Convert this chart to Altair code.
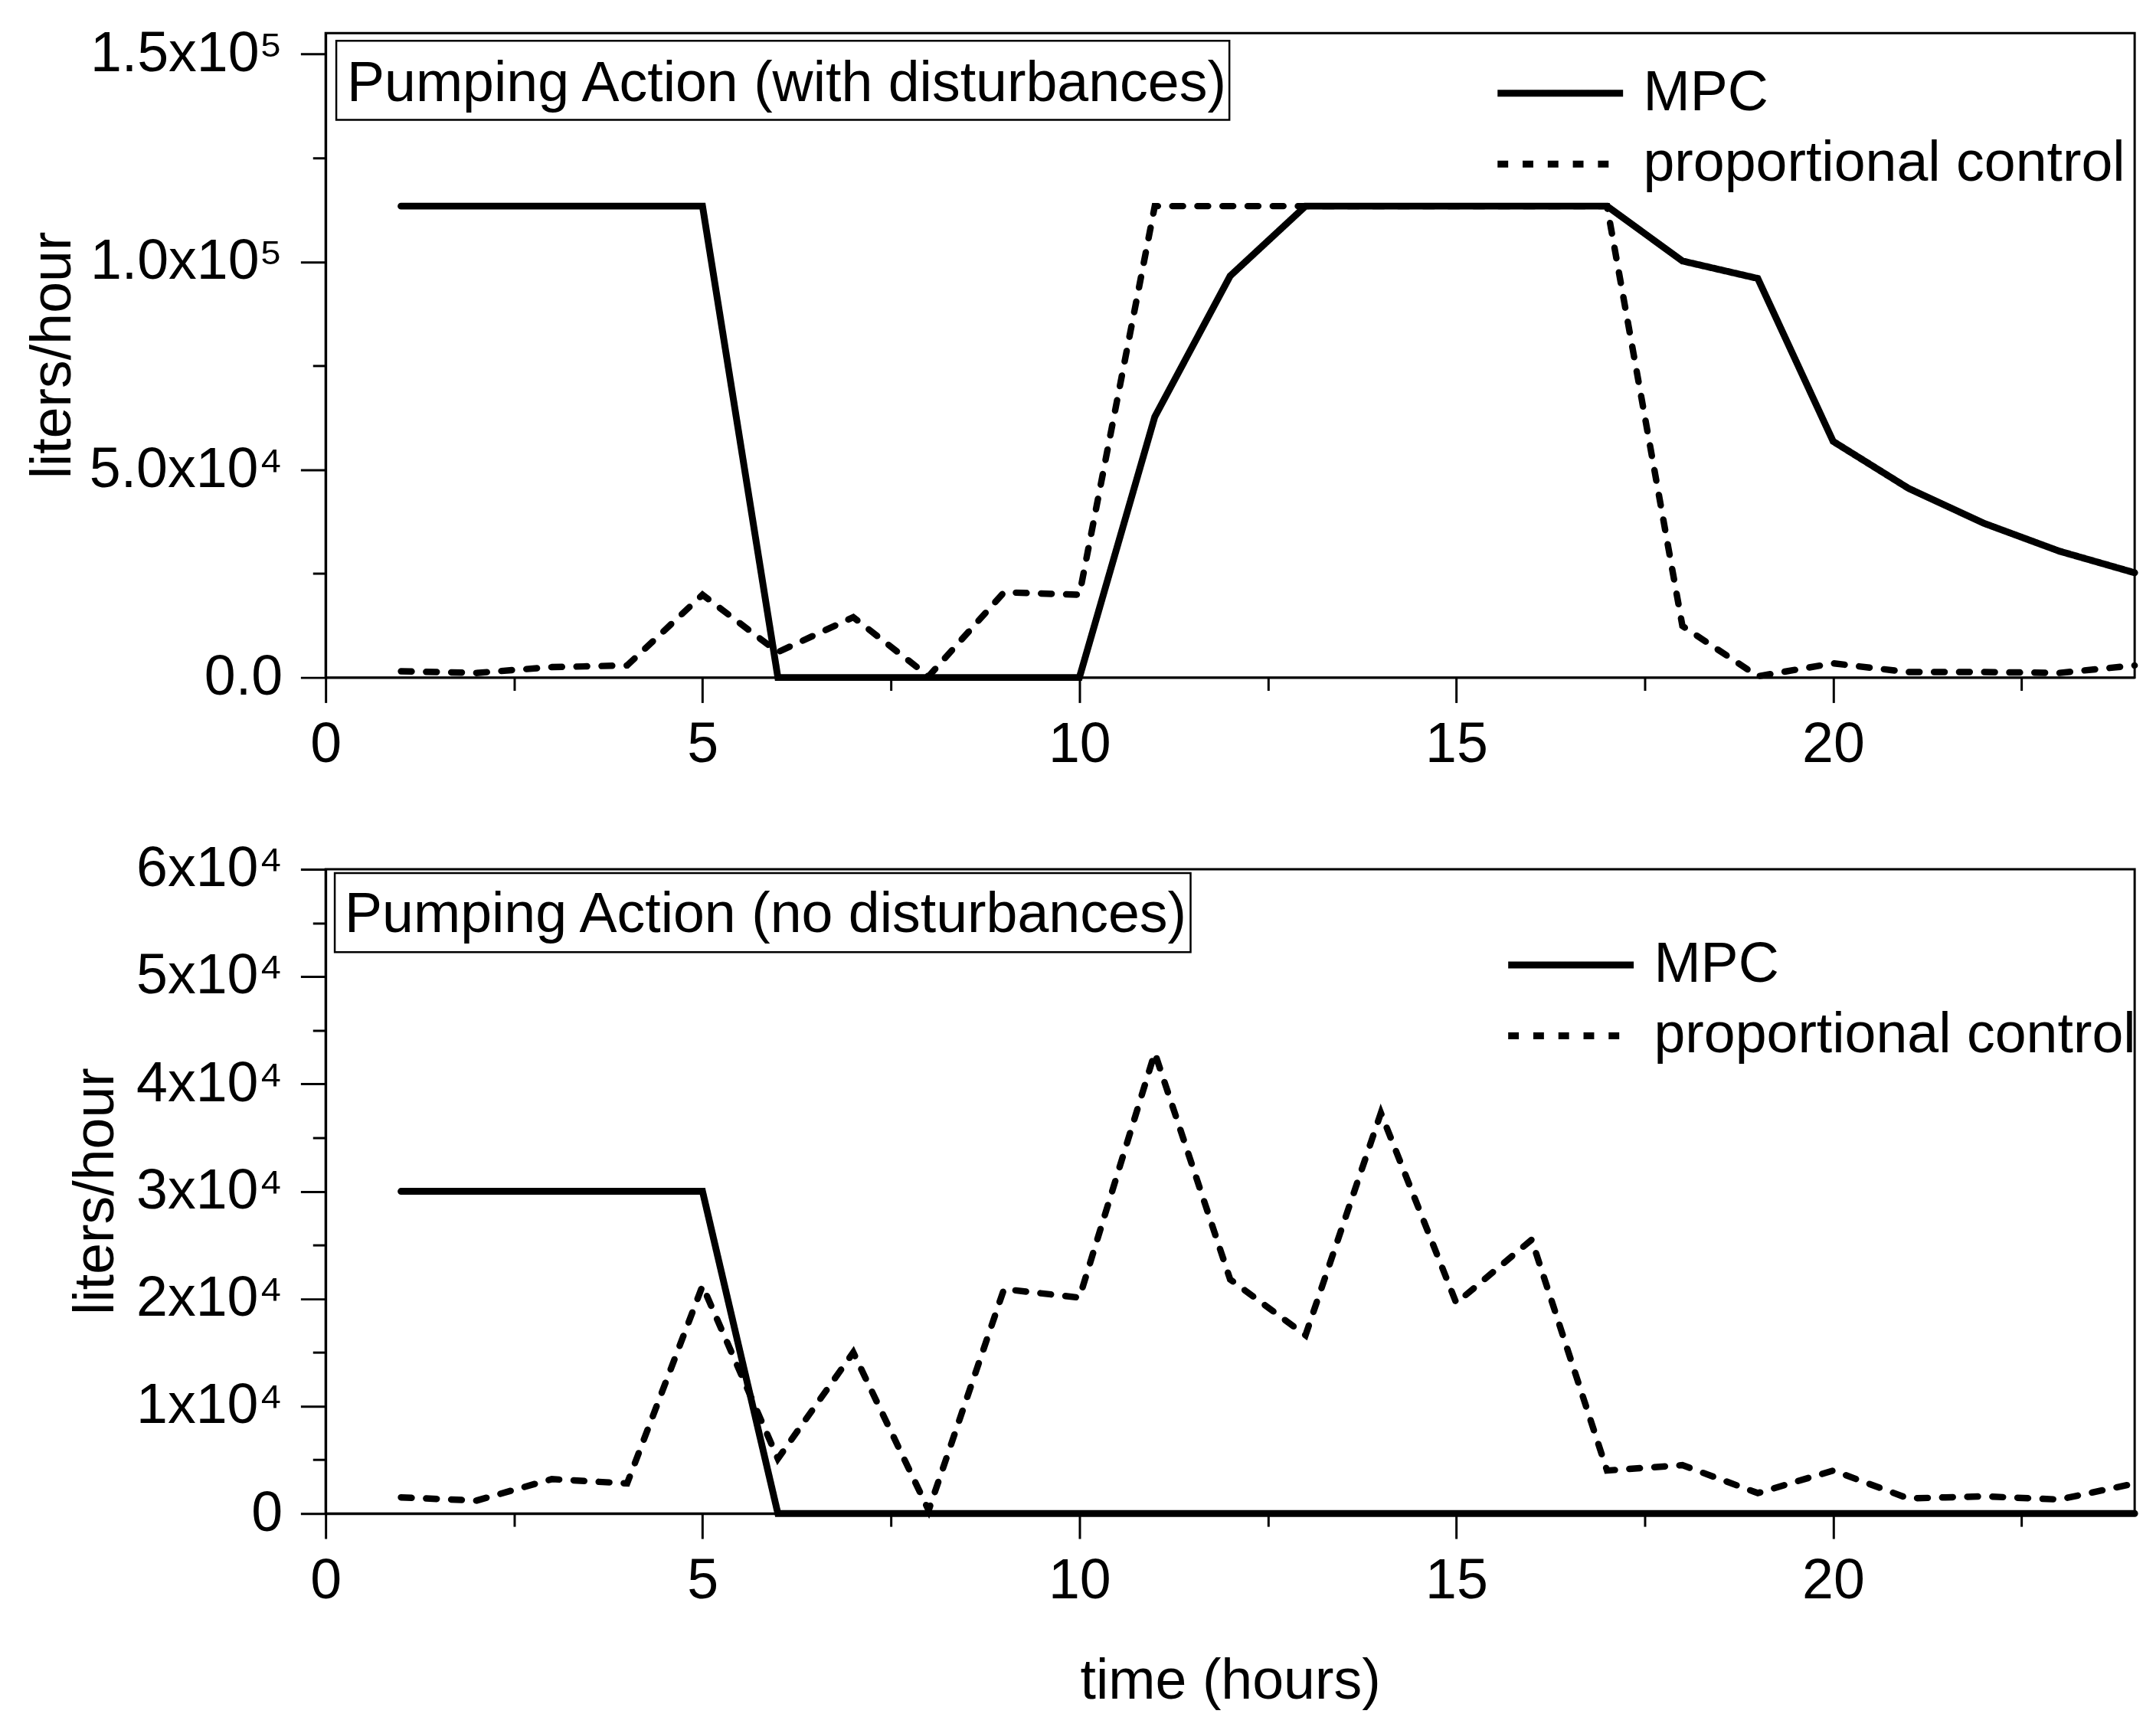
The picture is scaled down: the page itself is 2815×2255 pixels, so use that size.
import altair as alt
import pandas as pd

FONT = "Liberation Sans"
FS = 74

hours = [1, 2, 3, 4, 5, 6, 7, 8, 9, 10, 11, 12, 13, 14, 15, 16, 17, 18, 19, 20, 21, 22, 23, 24]
series_names = ["MPC", "proportional control"]

top_title = "Pumping Action (with disturbances)"
top_mpc = [113400, 113400, 113400, 113400, 113400, 0, 0, 0, 0, 0, 62700, 96600,
           113400, 113400, 113400, 113400, 113400, 100200, 96000, 56800, 45500, 37100, 30400, 25200]
top_prop = [1500, 1100, 2500, 2900, 19900, 6100, 14500, 300, 20500, 19900, 113400, 113400,
            113400, 113400, 113400, 113400, 113400, 12400, 300, 3400, 1300, 1300, 1100, 2900]

bottom_title = "Pumping Action (no disturbances)"
bottom_mpc = [30000, 30000, 30000, 30000, 30000, 0, 0, 0, 0, 0, 0, 0,
              0, 0, 0, 0, 0, 0, 0, 0, 0, 0, 0, 0]
bottom_prop = [1500, 1200, 3200, 2800, 21200, 5100, 15000, 300, 20900, 20100, 42900, 21800,
               16600, 37300, 19600, 25500, 4000, 4500, 1900, 4000, 1400, 1600, 1300, 2800]

x_major = [0, 5, 10, 15, 20]
x_minor = [2.5, 7.5, 12.5, 17.5, 22.5]
x_labels = ["0", "5", "10", "15", "20"]

top_y_major = [0, 50000, 100000, 150000]
top_y_minor = [25000, 75000, 125000]
top_y_labels = ["0.0", "5.0x10\u2074", "1.0x10\u2075", "1.5x10\u2075"]
top_y_max = 155000

bottom_y_major = [0, 10000, 20000, 30000, 40000, 50000, 60000]
bottom_y_minor = [5000, 15000, 25000, 35000, 45000, 55000]
bottom_y_labels = ["0", "1x10\u2074", "2x10\u2074", "3x10\u2074", "4x10\u2074", "5x10\u2074", "6x10\u2074"]
bottom_y_max = 60000


def arr(vals):
    return "[" + ",".join(repr(v) for v in vals) + "]"


def label_expr(vals, labs):
    v = arr(vals)
    l = "[" + ",".join("'" + s + "'" for s in labs) + "]"
    return f"indexof({v}, datum.value) >= 0 ? {l}[indexof({v}, datum.value)] : ''"


def tick_size(major):
    return {"condition": {"test": f"indexof({arr(major)}, datum.value) >= 0", "value": 33}, "value": 17}


def panel(mpc, prop, ymax, ymaj, ymin, ylabs, title, box, txt, leg, ytx, xtitle):
    x_enc = alt.X(
        "hour:Q",
        scale=alt.Scale(domain=[0, 24], nice=False, zero=False),
        axis=alt.Axis(values=x_major + x_minor, labelExpr=label_expr(x_major, x_labels),
                      tickSize=tick_size(x_major), title=xtitle, labelPadding=20,
                      titlePadding=59),
    )
    y_enc = alt.Y(
        "value:Q",
        scale=alt.Scale(domain=[0, ymax], nice=False),
        axis=alt.Axis(values=ymaj + ymin, labelExpr=label_expr(ymaj, ylabs),
                      tickSize=tick_size(ymaj), title="liters/hour", labelPadding=24,
                      titleX=ytx, titleY=423, titleAngle=270, titleBaseline="alphabetic",
                      titleAlign="center"),
    )
    legend = alt.Legend(orient="none", legendX=leg[0], legendY=leg[1], title=None,
                        symbolType="stroke", symbolSize=27225, symbolStrokeWidth=9,
                        symbolStrokeColor="black", clipHeight=74, rowPadding=19,
                        labelFontSize=FS, labelFont=FONT, labelOffset=22, padding=0,
                        labelColor="black", labelLimit=2000)
    dash_scale = alt.Scale(domain=series_names, range=[[1, 0], [14, 19]])
    dp = pd.DataFrame({"hour": hours, "value": prop, "series": series_names[1]})
    dm = pd.DataFrame({"hour": hours, "value": mpc, "series": series_names[0]})
    base_dash = alt.StrokeDash("series:N", scale=dash_scale, legend=legend)
    l1 = alt.Chart(dp).mark_line(color="black", strokeWidth=8.5, strokeCap="round").encode(
        x=x_enc, y=y_enc, strokeDash=base_dash)
    l2 = alt.Chart(dm).mark_line(color="black", strokeWidth=9, strokeCap="round").encode(
        x=x_enc, y=y_enc, strokeDash=base_dash)
    tdf = pd.DataFrame({"label": [title]})
    rect = alt.Chart(tdf).mark_rect(fill="white", fillOpacity=0, stroke="black", strokeWidth=2.5).encode(
        x=alt.value(box[0]), x2=alt.value(box[1]), y=alt.value(box[2]), y2=alt.value(box[3]))
    text = alt.Chart(tdf).mark_text(align="left", baseline="alphabetic", fontSize=FS, font=FONT,
                                    color="black").encode(
        x=alt.value(txt[0]), y=alt.value(txt[1]), text="label:N")
    return alt.layer(l1, l2, rect, text).properties(width=2378, height=847)


top = panel(top_mpc, top_prop, top_y_max, top_y_major, top_y_minor, top_y_labels, top_title,
            (14, 1188, 10, 114), (28, 89), (1536, 42), -336, None)
bottom = panel(bottom_mpc, bottom_prop, bottom_y_max, bottom_y_major, bottom_y_minor, bottom_y_labels,
               bottom_title, (12, 1137, 5, 109), (25, 83), (1550, 89), -280, "time (hours)")

chart = alt.vconcat(top, bottom, spacing=85).resolve_scale(
    strokeDash="independent"
).resolve_legend(
    strokeDash="independent"
).properties(
    padding={"left": 23, "top": 16, "right": 0, "bottom": 0},
    background="white",
).configure_view(stroke="black", strokeWidth=3).configure_axis(
    labelFont=FONT, titleFont=FONT, labelFontSize=FS, titleFontSize=FS, titleFontWeight="normal",
    labelColor="black", titleColor="black", grid=False, domainColor="black", domainWidth=3,
    tickColor="black", tickWidth=3, labelFlush=False, labelOverlap=False, labelLimit=2000
)

chart.save("out.html", embed_options={"renderer": "svg", "actions": False})
